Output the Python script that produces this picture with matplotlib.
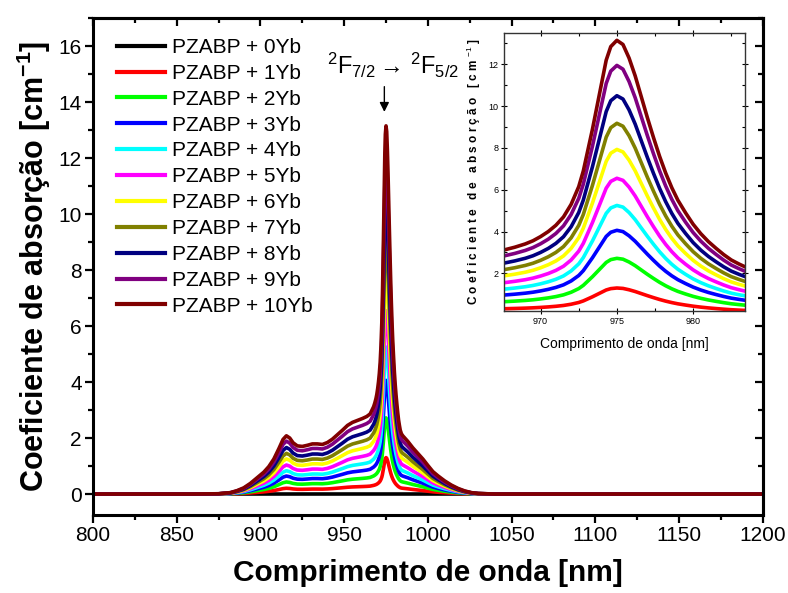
import numpy as np
import matplotlib
matplotlib.use("Agg")
import matplotlib.pyplot as plt
from matplotlib.ticker import MultipleLocator

plt.rcParams['font.family'] = ['Liberation Sans', 'DejaVu Sans']
plt.rcParams['mathtext.fontset'] = 'custom'
plt.rcParams['mathtext.rm'] = 'Liberation Sans'
plt.rcParams['mathtext.it'] = 'Liberation Sans:italic'
plt.rcParams['mathtext.bf'] = 'Liberation Sans:bold'

# ---- data ----
labels = ["PZABP + 0Yb", "PZABP + 1Yb", "PZABP + 2Yb", "PZABP + 3Yb", "PZABP + 4Yb",
          "PZABP + 5Yb", "PZABP + 6Yb", "PZABP + 7Yb", "PZABP + 8Yb", "PZABP + 9Yb",
          "PZABP + 10Yb"]
colors = ["#000000", "#FF0000", "#00FF00", "#0000FF", "#00FFFF", "#FF00FF",
          "#FFFF00", "#808000", "#000080", "#800080", "#800000"]
# peak absorption (cm^-1) at 975 nm for each sample
peak_heights = [0.0, 1.30, 2.72, 4.06, 5.25, 6.55, 7.93, 9.18, 10.50, 11.95, 13.15]

# wavelength grid (nm) and absorption of PZABP + 10Yb
wavelength = [800, 860, 875, 882, 886, 890, 894, 898, 902, 905, 908, 911, 913.5, 915.5,
              917.5, 919.5, 922, 925, 928, 931, 934, 937, 940, 943, 946, 949, 952, 955,
              958, 961, 963.5, 965.5, 967.6, 968.3, 969.0, 969.5, 970.0, 970.5, 971.0,
              971.5, 972.0, 972.5, 972.8, 973.1, 973.4, 973.7, 974.0, 974.3, 974.6,
              975.0, 975.4, 975.8, 976.2, 976.6, 977.0, 977.4, 977.8, 978.2, 978.6,
              979.0, 979.5, 980.0, 980.5, 981.0, 981.5, 982.0, 982.5, 983.0, 983.5,
              984.2, 985, 988, 991, 994, 997, 1000, 1003, 1006, 1010, 1014, 1018, 1022,
              1026, 1030, 1040, 1200]
absorb_10yb = [0.0, 0.0, 0.01, 0.05, 0.12, 0.22, 0.38, 0.58, 0.78, 0.98, 1.25, 1.62, 1.95,
               2.08, 2.00, 1.83, 1.72, 1.70, 1.74, 1.79, 1.79, 1.77, 1.84, 1.96, 2.12, 2.28,
               2.45, 2.56, 2.63, 2.70, 2.77, 2.86, 3.12, 3.25, 3.41, 3.56, 3.76, 4.00, 4.30,
               4.70, 5.30, 6.15, 6.90, 7.90, 8.90, 10.00, 11.10, 12.20, 12.85, 13.15, 12.95,
               12.30, 11.45, 10.45, 9.45, 8.50, 7.60, 6.80, 6.10, 5.50, 4.90, 4.35, 3.90,
               3.52, 3.20, 2.90, 2.64, 2.45, 2.28, 2.15, 2.08, 1.88, 1.65, 1.45, 1.25, 1.02,
               0.80, 0.65, 0.47, 0.32, 0.20, 0.11, 0.05, 0.02, 0.0, 0.0]

wl = np.array(wavelength)
base = np.array(absorb_10yb)
series = [base * h / peak_heights[-1] for h in peak_heights]

fig = plt.figure(figsize=(7.88, 5.93), dpi=100)
ax = fig.add_axes([0.118, 0.1315, 0.850, 0.838])

for y, c, lab in zip(series, colors, labels):
    ax.plot(wl, y, color=c, lw=2.6, label=lab, solid_joinstyle='round')

ax.set_xlim(800, 1200)
ax.set_ylim(-0.75, 17)
ax.xaxis.set_major_locator(MultipleLocator(50))
ax.xaxis.set_minor_locator(MultipleLocator(25))
ax.yaxis.set_major_locator(MultipleLocator(2))
ax.yaxis.set_minor_locator(MultipleLocator(1))
ax.tick_params(axis='both', which='major', direction='out', length=6, width=1.6,
               labelsize=15, pad=2)
ax.tick_params(axis='both', which='minor', direction='out', length=3.5, width=1.6)
for s in ax.spines.values():
    s.set_linewidth(2.2)
ax.set_xlabel("Comprimento de onda [nm]", fontsize=21.5, fontweight='bold', labelpad=10)
ax.set_ylabel(r"Coeficiente de absorção [cm$^{\mathbf{-1}}$]", fontsize=22,
              fontweight='bold', labelpad=4)
# inward ticks on the top and right edges
sec_x = ax.secondary_xaxis('top')
sec_x.xaxis.set_major_locator(MultipleLocator(50))
sec_x.xaxis.set_minor_locator(MultipleLocator(25))
sec_x.tick_params(which='major', direction='in', length=6, width=1.6, labeltop=False)
sec_x.tick_params(which='minor', direction='in', length=3.5, width=1.6)
sec_x.spines['top'].set_linewidth(2.2)
sec_y = ax.secondary_yaxis('right')
sec_y.yaxis.set_major_locator(MultipleLocator(2))
sec_y.yaxis.set_minor_locator(MultipleLocator(1))
sec_y.tick_params(which='major', direction='in', length=6, width=1.6, labelright=False)
sec_y.tick_params(which='minor', direction='in', length=3.5, width=1.6)
sec_y.spines['right'].set_linewidth(2.2)

leg = ax.legend(loc='upper left', bbox_to_anchor=(117 / 788, 1 - 38 / 593),
                bbox_transform=fig.transFigure, frameon=False, fontsize=15,
                handlelength=2.3, handletextpad=0.35, labelspacing=0.33,
                borderpad=0, borderaxespad=0)
for h in leg.get_lines():
    h.set_linewidth(3)

ax.text(979.1, 15.3, r"$^{2}\mathregular{F}_{7/2}\rightarrow\,^{2}\mathregular{F}_{5/2}$",
        fontsize=17, ha='center', va='center')
ax.annotate('', xy=(974, 13.55), xytext=(974, 14.65),
            arrowprops=dict(arrowstyle='-|>', color='black', lw=1, mutation_scale=14))

# ---- inset ----
axin = fig.add_axes([504 / 788, 1 - 311 / 593, 241 / 788, 278 / 593])
for y, c in zip(series, colors):
    axin.plot(wl, y, color=c, lw=2.6, solid_joinstyle='round')
axin.set_xlim(967.6, 983.4)
axin.set_ylim(0.2, 13.5)
axin.xaxis.set_major_locator(MultipleLocator(5))
axin.xaxis.set_minor_locator(MultipleLocator(2.5))
axin.yaxis.set_major_locator(MultipleLocator(2))
axin.yaxis.set_minor_locator(MultipleLocator(1))
narrow = ['Liberation Sans Narrow', 'Liberation Sans', 'DejaVu Sans']
axin.tick_params(which='major', direction='inout', length=4, width=0.8, labelsize=6.5,
                 top=True, right=True, pad=2)
axin.tick_params(which='minor', direction='in', length=2.5, width=0.8, top=True, right=True)
for lab in axin.get_xticklabels() + axin.get_yticklabels():
    lab.set_family(narrow)
for s in axin.spines.values():
    s.set_linewidth(1.0)
    s.set_color('#333333')
axin.set_xlabel("Comprimento de onda [nm]", fontsize=10, family=narrow, labelpad=8)
axin.set_ylabel(r"C o e f i c i e n t e   d e   a b s o r ç ã o   [ c m $^{-1}$ ]",
                fontsize=8.5, fontweight='bold', labelpad=4)

fig.savefig("out.png", dpi=100)
